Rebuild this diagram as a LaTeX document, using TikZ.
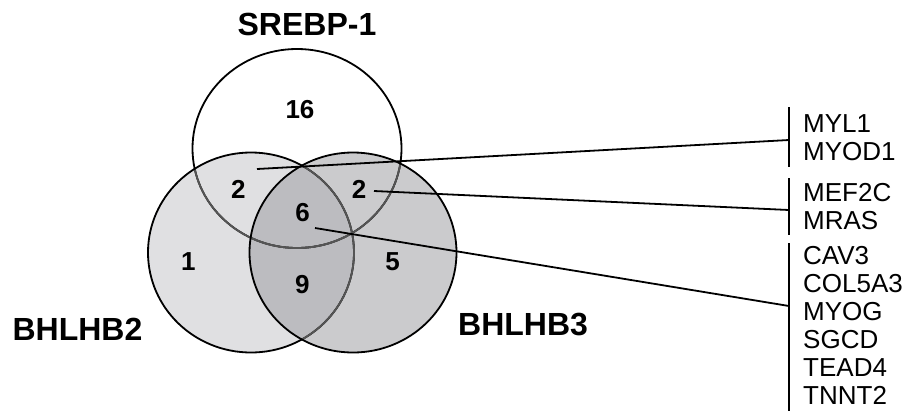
\documentclass[tikz,border=0pt]{standalone}
\usepackage{fontspec}
\setmainfont{Liberation Sans}
\definecolor{leftfill}{RGB}{224,224,226}
\definecolor{rightfill}{RGB}{203,203,205}
\definecolor{bothfill}{RGB}{188,188,192}
\definecolor{hidline}{RGB}{85,85,85}
\begin{document}
\begin{tikzpicture}[x=1pt,y=-1pt,
  title/.style={font=\fontsize{32}{36}\selectfont\bfseries, inner sep=0pt, anchor=base},
  num/.style={font=\fontsize{26}{30}\selectfont\bfseries, inner sep=0pt, anchor=base},
  genes/.style={font=\fontsize{26}{28}\selectfont, inner sep=0pt, anchor=north west, align=left},
  conn/.style={line width=1.8pt},
  venn/.style={line width=1.8pt},
  topc/.style={insert path={(297,148.5) ellipse [x radius=104.5pt, y radius=99.5pt]}},
  leftc/.style={insert path={(251,252.5) ellipse [x radius=103pt, y radius=100pt]}},
  rightc/.style={insert path={(353,252.5) ellipse [x radius=103.5pt, y radius=100pt]}}]
\useasboundingbox (0,0) rectangle (910,416);
\fill[white] (0,0) rectangle (910,416);
% fills
\fill[white][topc];
\fill[leftfill][leftc];
\fill[rightfill][rightc];
\begin{scope}
  \clip[leftc];
  \fill[bothfill][rightc];
\end{scope}
% outlines
\draw[venn][topc];
\begin{scope}
  \clip[leftc];
  \draw[venn, hidline][topc];
\end{scope}
\begin{scope}
  \clip[rightc];
  \draw[venn, hidline][topc];
\end{scope}
\draw[venn][leftc];
\begin{scope}
  \clip[rightc];
  \draw[venn, hidline][leftc];
\end{scope}
\draw[venn][rightc];
% titles
\node[title] (srebp) at (307,35) {SREBP-1};
\node[title] (bh2) at (77.5,340) {BHLHB2};
\node[title, anchor=base west] (bh3) at (458,335) {BHLHB3};
% numbers
\node[num] (n16) at (300,118.3) {16};
\node[num] (n2l) at (238.3,198.3) {2};
\node[num] (n2r) at (359,198.3) {2};
\node[num] (n6) at (302.7,221.7) {6};
\node[num] (n1) at (188.3,270) {1};
\node[num] (n9) at (302.3,293.3) {9};
\node[num] (n5) at (392.7,270) {5};
% gene lists
\node[genes] (g1) at (803,114.7) {MYL1\\MYOD1};
\node[genes] (g2) at (803,183.1) {MEF2C\\MRAS};
\node[genes] (g3) at (803,245.7) {CAV3\\COL5A3\\MYOG\\SGCD\\TEAD4\\TNNT2};
% brackets
\coordinate (b1t) at (789,107);
\coordinate (b1b) at (789,167);
\coordinate (b1m) at (789,140);
\coordinate (b2t) at (789,178);
\coordinate (b2b) at (789,235);
\coordinate (b2m) at (789,210);
\coordinate (b3t) at (789,243);
\coordinate (b3b) at (789,411);
\coordinate (b3m) at (789,306);
\draw[conn] (b1t) -- (b1b);
\draw[conn] (b2t) -- (b2b);
\draw[conn] (b3t) -- (b3b);
% connectors
\coordinate (p1) at (257,169);
\coordinate (p2) at (374,191);
\coordinate (p3) at (315,228);
\draw[conn] (p1) -- (b1m);
\draw[conn] (p2) -- (b2m);
\draw[conn] (p3) -- (b3m);
\end{tikzpicture}
\end{document}
